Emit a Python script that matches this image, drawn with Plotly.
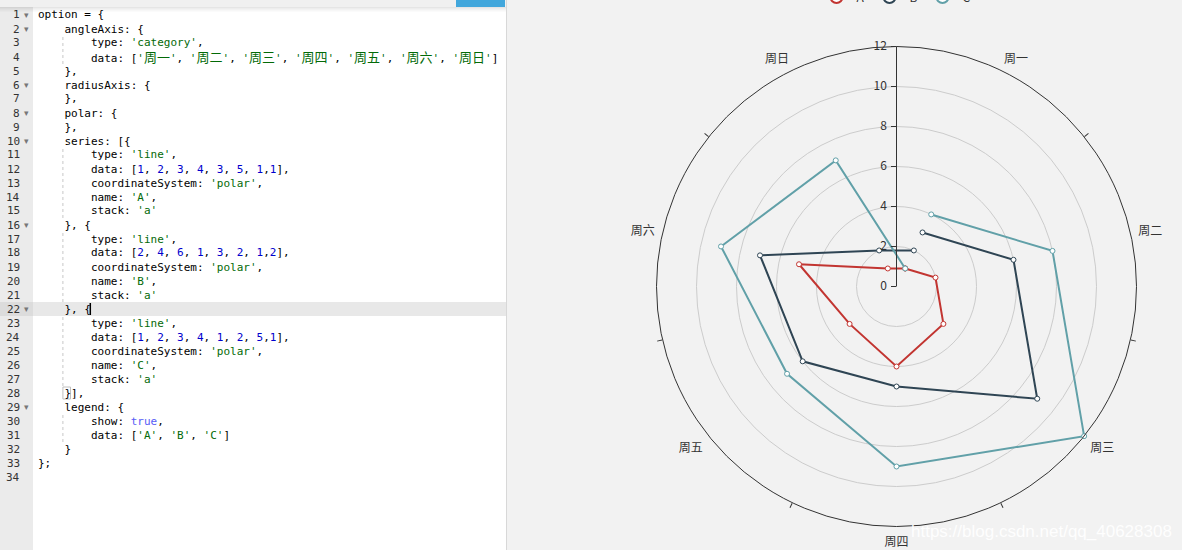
import re
import plotly.graph_objects as go

W, H = 1182, 550

# ---------------- data ----------------
CATEGORIES = ['周一', '周二', '周三', '周四', '周五', '周六', '周日']
SERIES_NAMES = ['A', 'B', 'C']
A_DATA = [1, 2, 3, 4, 3, 5, 1, 1]
B_DATA = [2, 4, 6, 1, 3, 2, 1, 2]
C_DATA = [1, 2, 3, 4, 1, 2, 5, 1]
SERIES_COLORS = ['#c23531', '#2f4554', '#61a0a8']
RADIAL_TICKS = [0, 2, 4, 6, 8, 10, 12]

CODE_LINES = [
    "option = {",
    "    angleAxis: {",
    "        type: 'category',",
    "        data: ['周一', '周二', '周三', '周四', '周五', '周六', '周日']",
    "    },",
    "    radiusAxis: {",
    "    },",
    "    polar: {",
    "    },",
    "    series: [{",
    "        type: 'line',",
    "        data: [1, 2, 3, 4, 3, 5, 1,1],",
    "        coordinateSystem: 'polar',",
    "        name: 'A',",
    "        stack: 'a'",
    "    }, {",
    "        type: 'line',",
    "        data: [2, 4, 6, 1, 3, 2, 1,2],",
    "        coordinateSystem: 'polar',",
    "        name: 'B',",
    "        stack: 'a'",
    "    }, {",
    "        type: 'line',",
    "        data: [1, 2, 3, 4, 1, 2, 5,1],",
    "        coordinateSystem: 'polar',",
    "        name: 'C',",
    "        stack: 'a'",
    "    }],",
    "    legend: {",
    "        show: true,",
    "        data: ['A', 'B', 'C']",
    "    }",
    "};",
    "",
]
FOLD_LINES = [1, 2, 6, 8, 10, 16, 22, 29]
ACTIVE_LINE = 22

# ---------------- helpers ----------------
def px(x):
    return x / W

def py(y):
    return 1 - y / H

N_CAT = len(CATEGORIES)
STEP = 360.0 / N_CAT

# stacking as echarts renders it (only indices that have a category are stacked)
stacked = []
base = [0] * len(A_DATA)
for data in (A_DATA, B_DATA, C_DATA):
    r = []
    for i, v in enumerate(data):
        if i < N_CAT:
            r.append(v + base[i])
            base[i] += v
        else:
            r.append(v)
    stacked.append(r)

theta_idx = [i * STEP for i in range(len(A_DATA))]

fig = go.Figure()
for name, r, col in zip(SERIES_NAMES, stacked, SERIES_COLORS):
    fig.add_trace(go.Scatterpolar(
        r=r, theta=theta_idx, mode='lines+markers', name=name,
        line=dict(color=col, width=2),
        marker=dict(symbol='circle', size=5, color='white', line=dict(color=col, width=1)),
        subplot='polar',
    ))

# overlay subplot only for boundary ticks
fig.add_trace(go.Scatterpolar(r=[], theta=[], subplot='polar2', showlegend=False, hoverinfo='skip'))

domain = dict(x=[px(656.5), px(1136.5)], y=[py(526.5), py(46.5)])

fig.update_layout(
    width=W, height=H,
    margin=dict(l=0, r=0, t=0, b=0, autoexpand=False),
    paper_bgcolor='#f2f2f2',
    plot_bgcolor='#f2f2f2',
    showlegend=True,
    legend=dict(orientation='h', x=px(896), xanchor='center', y=1 + 3 / H, yanchor='middle',
                font=dict(family='Noto Sans CJK SC', size=12, color='#333'),
                bgcolor='rgba(0,0,0,0)', itemsizing='constant'),
    polar=dict(
        domain=domain,
        bgcolor='rgba(0,0,0,0)',
        angularaxis=dict(
            thetaunit='degrees', rotation=90 - STEP / 2, direction='clockwise',
            tickmode='array', tickvals=[i * STEP for i in range(N_CAT)], ticktext=CATEGORIES,
            ticks='outside', ticklen=5, tickcolor='rgba(0,0,0,0)',
            showgrid=False, showline=True, linecolor='#333', linewidth=1,
            tickfont=dict(family='Noto Sans CJK SC', size=12, color='#333'),
        ),
        radialaxis=dict(
            angle=90, side='counterclockwise', range=[0, 12],
            tickmode='array', tickvals=RADIAL_TICKS,
            ticks='outside', ticklen=5, tickcolor='#333',
            showline=True, linecolor='#333', linewidth=1,
            gridcolor='#cccccc', gridwidth=1,
            tickfont=dict(family='Noto Sans CJK SC', size=12, color='#333'),
            tickangle=90,
        ),
    ),
    polar2=dict(
        domain=domain,
        bgcolor='rgba(0,0,0,0)',
        angularaxis=dict(
            thetaunit='degrees', rotation=90 - STEP / 2, direction='clockwise',
            tickmode='array', tickvals=[(i - 0.5) * STEP for i in range(N_CAT)],
            ticks='outside', ticklen=5, tickcolor='#333', showticklabels=False,
            showgrid=False, showline=False,
        ),
        radialaxis=dict(visible=False, range=[0, 12]),
    ),
)

# ---------------- code editor panel ----------------
shapes = []
# code area white
shapes.append(dict(type='rect', xref='paper', yref='paper', x0=px(33), x1=px(506), y0=0, y1=1,
                   fillcolor='white', line=dict(width=0), layer='below'))
# gutter
shapes.append(dict(type='rect', xref='paper', yref='paper', x0=0, x1=px(33), y0=0, y1=1,
                   fillcolor='#ebebeb', line=dict(width=0), layer='below'))
# active line
LH = 14
TOP0 = 8
act_top = TOP0 + (ACTIVE_LINE - 1) * LH
shapes.append(dict(type='rect', xref='paper', yref='paper', x0=px(33), x1=px(506), y0=py(act_top + LH), y1=py(act_top),
                   fillcolor='#e8e8e8', line=dict(width=0), layer='below'))
shapes.append(dict(type='rect', xref='paper', yref='paper', x0=0, x1=px(33), y0=py(act_top + LH), y1=py(act_top),
                   fillcolor='#dcdcdc', line=dict(width=0), layer='below'))
# separator
shapes.append(dict(type='line', xref='paper', yref='paper', x0=px(506.5), x1=px(506.5), y0=0, y1=1,
                   line=dict(color='#d8d8d8', width=1)))
# header bar + shadow
shapes.append(dict(type='rect', xref='paper', yref='paper', x0=0, x1=px(506), y0=py(7), y1=1,
                   fillcolor='#f0f0f0', line=dict(width=0)))
for k, a in enumerate([0.10, 0.07, 0.05, 0.03, 0.015]):
    shapes.append(dict(type='rect', xref='paper', yref='paper', x0=0, x1=px(506), y0=py(8 + k), y1=py(7 + k),
                       fillcolor='rgba(0,0,0,%s)' % a, line=dict(width=0)))
shapes.append(dict(type='rect', xref='paper', yref='paper', x0=px(456), x1=px(505), y0=py(7), y1=1,
                   fillcolor='#42a7dc', line=dict(width=0)))
# indent guides
CW = 6.6
CODE_X = 37
for a, b in [(3, 4), (11, 15), (17, 21), (23, 27), (30, 31)]:
    gx = CODE_X + 4 * CW - 0.5
    shapes.append(dict(type='line', xref='paper', yref='paper', x0=px(gx), x1=px(gx),
                       y0=py(TOP0 + b * LH), y1=py(TOP0 + (a - 1) * LH),
                       line=dict(color='#c8c8c8', width=1, dash='dot')))
# cursor
cx = CODE_X + 8 * CW + 0.5
shapes.append(dict(type='line', xref='paper', yref='paper', x0=px(cx), x1=px(cx),
                   y0=py(act_top + LH - 1), y1=py(act_top + 1), line=dict(color='black', width=1.5)))
# matching bracket box (line 28)
bt = TOP0 + 27 * LH
shapes.append(dict(type='rect', xref='paper', yref='paper', x0=px(CODE_X + 4 * CW - 0.5), x1=px(CODE_X + 5 * CW + 0.5),
                   y0=py(bt + LH - 1), y1=py(bt + 1), fillcolor='rgba(0,0,0,0)',
                   line=dict(color='#c0c0c0', width=1)))

STR_C = '#036a07'
NUM_C = '#0000cd'
BOOL_C = '#585cf6'

def span(txt, color=None, size=None):
    txt = txt.replace(' ', '\u00a0')
    st = []
    if color:
        st.append('color:%s' % color)
    if size:
        st.append('font-size:%dpx' % size)
    if not st:
        return txt
    return '<span style="%s">%s</span>' % (';'.join(st), txt)

def colorize(line):
    out = []
    pos = 0
    for m in re.finditer(r"('[^']*')|(\b\d+\b)|(\btrue\b)", line):
        if m.start() > pos:
            out.append(span(line[pos:m.start()]))
        tok = m.group(0)
        if m.group(1):
            for seg in re.findall(r'[\u4e00-\u9fff]+|[^\u4e00-\u9fff]+', tok):
                if re.match(r'[\u4e00-\u9fff]', seg):
                    out.append(span(seg, STR_C, 13))
                else:
                    out.append(span(seg, STR_C))
        elif m.group(2):
            out.append(span(tok, NUM_C))
        else:
            out.append(span(tok, BOOL_C))
        pos = m.end()
    if pos < len(line):
        out.append(span(line[pos:]))
    return ''.join(out) if out else '\u00a0'

annotations = []
MONO = 'DejaVu Sans Mono, Noto Sans CJK SC'
for n, line in enumerate(CODE_LINES, start=1):
    yc = TOP0 + (n - 1) * LH + LH / 2
    annotations.append(dict(xref='paper', yref='paper', x=px(21), y=py(yc), xanchor='right', yanchor='middle',
                            text=str(n), showarrow=False, borderpad=0,
                            font=dict(family=MONO, size=11, color='#333')))
    if n in FOLD_LINES:
        annotations.append(dict(xref='paper', yref='paper', x=px(26), y=py(yc), xanchor='center', yanchor='middle',
                                text='▾', showarrow=False, borderpad=0,
                                font=dict(family='DejaVu Sans', size=9, color='#777')))
    if line:
        annotations.append(dict(xref='paper', yref='paper', x=px(CODE_X), y=py(yc), xanchor='left', yanchor='middle',
                                text=colorize(line), showarrow=False, borderpad=0,
                                font=dict(family=MONO, size=11, color='#000')))

annotations.append(dict(xref='paper', yref='paper', x=px(1173), y=py(531), xanchor='right', yanchor='middle',
                        text='https://blog.csdn.net/qq_40628308', showarrow=False, borderpad=0,
                        font=dict(family='Liberation Sans', size=17, color='rgba(255,255,255,0.95)')))

fig.update_layout(shapes=shapes, annotations=annotations)

fig.write_html('out.html')
